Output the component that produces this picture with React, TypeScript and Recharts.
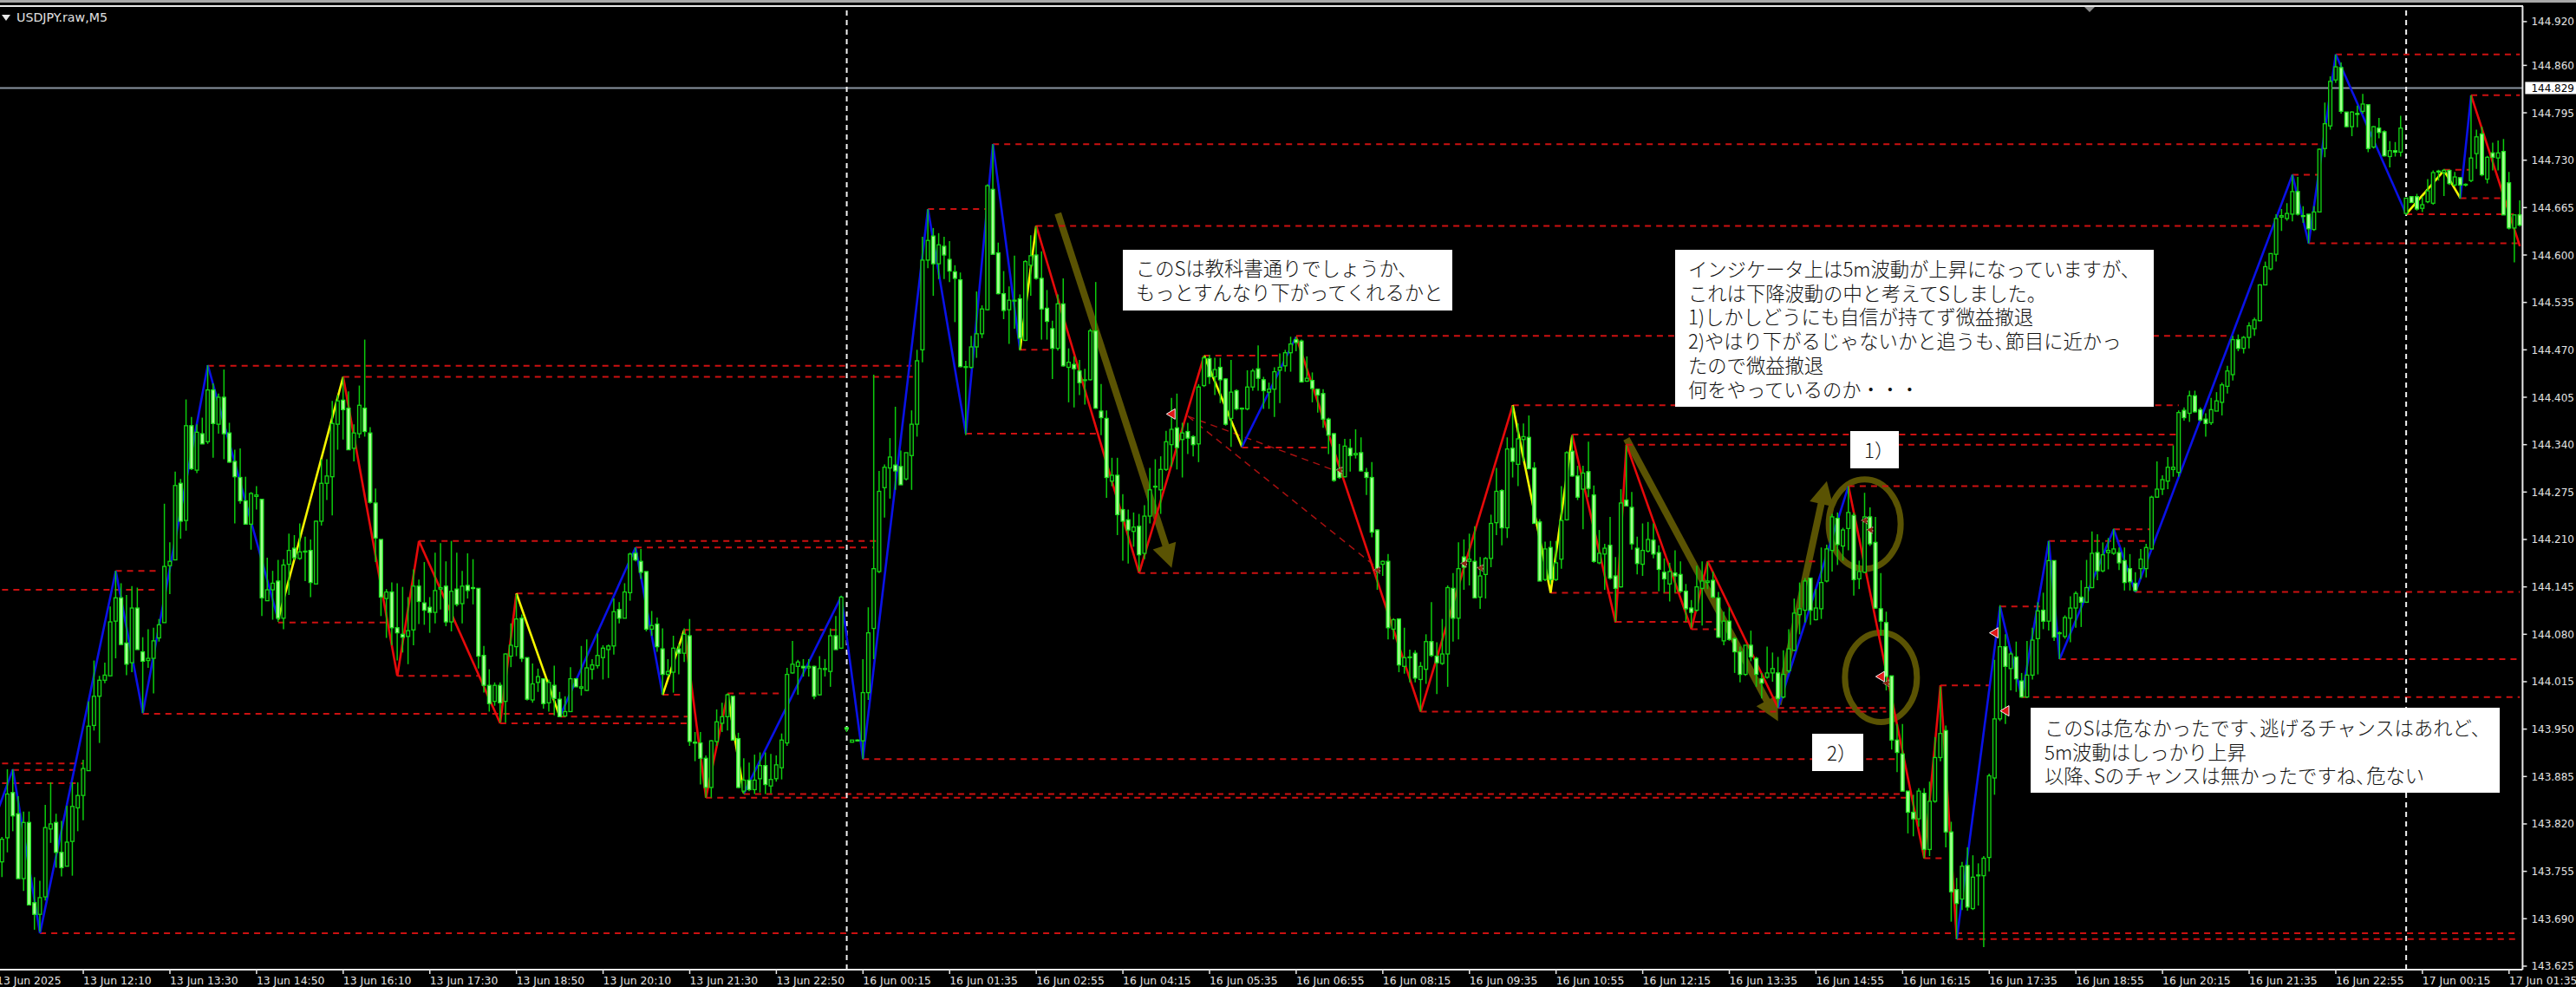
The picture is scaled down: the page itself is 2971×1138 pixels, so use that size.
import { Bar, ComposedChart, ReferenceDot, ReferenceLine, XAxis, YAxis } from "recharts";

// prices in thousandths of a yen, one entry per M5 bar
const opens = [
  143736,143768,143801,143863,143834,143745,143822,143712,143696,143720,143813,143822,143781,143762,143796,143842,143859,143893,143955,143995,
  144017,144023,144098,144130,144068,144041,144116,144056,144044,144047,144075,144096,144174,144182,144287,144236,144366,144305,144355,144344,
  144415,144368,144405,144356,144317,144295,144263,144231,144269,144265,144126,144141,144153,144102,144176,144198,144184,144193,144195,144149,
  144235,144287,144296,144368,144401,144390,144335,144355,144390,144356,144260,144210,144129,144138,144089,144080,144077,144086,144146,144123,
  144117,144110,144142,144146,144097,144142,144122,144147,144144,144143,144051,144010,143988,144010,143988,144050,144063,144102,144048,143990,
  144014,144019,143986,144010,143991,143968,143974,144019,144006,144003,144032,144037,144048,144059,144064,144114,144102,144137,144191,144180,
  144166,144087,144094,144060,144025,144028,144060,144054,144078,143932,143931,143910,143870,143933,143958,143967,143995,143937,143865,143880,
  143867,143882,143900,143872,143882,143897,143931,144027,144036,144036,144034,144036,143997,144032,144029,144078,144061,143952,143932,143935,
  143934,144000,144088,144166,144281,144308,144312,144310,144293,144325,144368,144470,144593,144626,144588,144612,144594,144577,144566,144446,
  144446,144474,144492,144525,144690,144603,144547,144525,144537,144540,144483,144586,144600,144568,144527,144499,144472,144533,144446,144450,
  144441,144428,144429,144496,144386,144376,144290,144298,144251,144237,144221,144228,144191,144242,144282,144278,144306,144340,144363,144347,
  144358,144351,144341,144421,144458,144433,144446,144430,144376,144414,144389,144389,144419,144444,144429,144412,144416,144442,144448,144466,
  144484,144482,144427,144428,144416,144410,144375,144355,144307,144296,144335,144326,144329,144302,144295,144223,144176,144180,144087,144101,
  144036,144048,144054,144018,144032,144070,144050,144040,144053,144143,144102,144186,144180,144180,144131,144162,144184,144233,144277,144226,
  144335,144313,144347,144350,144308,144234,144155,144199,144155,144183,144237,144331,144297,144279,144303,144271,144178,144190,144202,144160,
  144145,144264,144254,144198,144176,144194,144209,144192,144165,144149,144164,144162,144139,144116,144113,144143,144151,144154,144130,144071,
  144098,144074,144056,144025,144065,144047,144019,144021,144027,144027,143994,144030,144058,144107,144113,144157,144100,144115,144153,144195,
  144239,144201,144225,144243,144156,144165,144241,144206,144115,144096,144023,143935,143916,143865,143836,143827,143862,143785,143851,143911,
  143948,143809,143730,143717,143763,143704,143749,143749,143774,143883,143964,144063,144033,144049,144016,143994,144024,144074,144113,144098,
  144181,144081,144077,144102,144116,144131,144124,144144,144192,144167,144192,144191,144192,144181,144170,144150,144170,144170,144197,144268,
  144279,144290,144306,144302,144387,144383,144407,144388,144375,144370,144386,144398,144420,144436,144484,144472,144487,144499,144510,144559,
  144581,144601,144652,144650,144656,144687,144654,144656,144635,144659,144746,144777,144840,144857,144796,144776,144794,144797,144806,144748,
  144774,144769,144735,144743,144741,144657,144680,144680,144664,144673,144671,144715,144713,144716,144696,144706,144696,144702,144739,144766,
  144704,144740,144733,144742,144699,144637,144655,
];
const highs = [
  143784,143802,143895,143895,143858,143837,143837,143747,143742,143846,143877,143834,143824,143845,143877,143877,143908,143988,144044,144023,
  144041,144118,144167,144150,144134,144146,144144,144076,144087,144089,144101,144259,144206,144303,144293,144402,144378,144368,144377,144449,
  144424,144410,144443,144370,144333,144335,144296,144275,144283,144265,144185,144167,144182,144183,144218,144216,144232,144214,144210,144236,
  144320,144320,144400,144408,144433,144413,144368,144421,144484,144364,144280,144210,144142,144151,144150,144145,144131,144169,144155,144179,
  144131,144192,144205,144180,144208,144192,144167,144191,144183,144143,144064,144032,144014,144014,144054,144095,144135,144107,144048,144040,
  144033,144019,144018,144037,144001,143995,144035,144020,144064,144073,144046,144081,144065,144066,144129,144124,144150,144192,144199,144197,
  144166,144112,144103,144088,144046,144078,144067,144088,144101,143946,143946,143914,143935,143977,143986,143999,143995,143945,143910,143904,
  143915,143918,143918,143916,143914,143944,144034,144071,144045,144046,144046,144037,144050,144046,144088,144105,144133,143952,143935,143936,
  144046,144117,144436,144304,144313,144349,144392,144332,144329,144387,144470,144625,144663,144637,144630,144625,144619,144586,144576,144455,
  144489,144550,144531,144697,144752,144617,144578,144557,144599,144546,144593,144627,144639,144605,144552,144510,144546,144568,144472,144461,
  144456,144444,144499,144563,144423,144387,144322,144322,144272,144251,144247,144245,144257,144308,144320,144324,144359,144404,144410,144370,
  144370,144353,144423,144462,144463,144459,144459,144431,144456,144416,144391,144442,144444,144476,144433,144425,144446,144465,144470,144488,
  144488,144484,144461,144439,144417,144416,144377,144356,144341,144348,144348,144361,144350,144308,144316,144224,144181,144190,144102,144102,
  144089,144059,144058,144042,144080,144124,144069,144101,144147,144164,144206,144210,144218,144228,144186,144186,144244,144308,144279,144350,
  144393,144369,144369,144380,144316,144238,144207,144208,144208,144283,144331,144353,144311,144311,144344,144284,144223,144204,144241,144186,
  144279,144339,144275,144214,144232,144234,144232,144202,144184,144178,144195,144180,144149,144127,144174,144180,144179,144166,144138,144111,
  144117,144076,144063,144065,144085,144049,144027,144063,144055,144049,144058,144087,144129,144151,144157,144157,144142,144199,144203,144245,
  144247,144226,144283,144247,144181,144274,144254,144241,144164,144111,144023,143957,143957,143865,143860,143869,143869,143878,143939,144008,
  143955,143823,143746,143768,143788,143777,143766,143776,143889,144045,144120,144080,144056,144070,144027,144071,144089,144124,144137,144208,
  144181,144084,144106,144132,144139,144154,144182,144221,144217,144206,144212,144225,144199,144199,144190,144165,144197,144204,144270,144317,
  144298,144323,144339,144387,144391,144414,144414,144391,144383,144404,144412,144425,144448,144489,144491,144489,144508,144514,144560,144591,
  144602,144656,144663,144671,144710,144707,144667,144656,144667,144746,144809,144845,144875,144864,144796,144797,144805,144821,144806,144777,
  144788,144771,144756,144755,144791,144678,144681,144684,144680,144704,144716,144717,144718,144717,144714,144707,144698,144819,144772,144776,
  144736,144754,144757,144759,144714,144655,144675,
];
const lows = [
  143731,143747,143781,143810,143745,143728,143709,143675,143672,143715,143794,143760,143748,143762,143749,143810,143825,143893,143948,143931,
  144013,144023,144047,144065,144024,144028,144059,143972,144034,143999,144070,144096,144135,144182,144211,144222,144305,144301,144341,144341,
  144322,144355,144320,144315,144232,144259,144231,144196,144251,144105,144126,144100,144097,144087,144134,144182,144182,144153,144131,144149,
  144229,144264,144243,144333,144347,144333,144317,144349,144351,144259,144179,144105,144075,144065,144044,144055,144039,144065,144094,144093,
  144082,144095,144114,144091,144084,144118,144095,144129,144121,144033,144000,143974,143982,143959,143959,144035,144050,144042,143989,143986,
  144001,143978,143974,143969,143967,143967,143974,144008,143996,144002,144018,144033,144018,144020,144052,144095,144102,144126,144180,144156,
  144084,144078,144056,143997,144022,144000,144025,144042,143927,143906,143874,143856,143856,143927,143946,143948,143935,143869,143861,143865,
  143861,143863,143861,143862,143878,143881,143927,144026,143997,144022,144022,143991,143996,144022,144008,144059,144060,143946,143932,143934,
  143909,143990,144046,144164,144240,144266,144278,144285,144291,144278,144351,144453,144582,144544,144567,144567,144563,144508,144446,144353,
  144444,144459,144486,144524,144601,144546,144512,144478,144499,144469,144482,144544,144566,144484,144484,144430,144469,144447,144398,144391,
  144408,144395,144428,144389,144353,144267,144283,144216,144181,144177,144200,144166,144183,144232,144245,144245,144304,144310,144306,144295,
  144327,144324,144316,144419,144423,144408,144397,144366,144337,144387,144339,144387,144414,144414,144389,144389,144378,144397,144440,144440,
  144468,144425,144426,144398,144384,144363,144327,144289,144293,144295,144303,144321,144303,144271,144213,144141,144160,144073,144073,144028,
  144026,144014,144014,143974,144012,144049,143998,144038,144008,144070,144073,144141,144147,144129,144115,144129,144172,144216,144202,144212,
  144295,144283,144317,144306,144232,144153,144153,144149,144153,144170,144236,144296,144264,144224,144268,144178,144176,144141,144155,144097,
  144144,144256,144196,144162,144160,144192,144184,144139,144137,144125,144137,144137,144097,144089,144111,144092,144142,144129,144075,144065,
  144071,144027,144014,144023,144043,144008,143992,144019,144015,143979,143992,144027,144057,144080,144096,144093,144099,144101,144151,144166,
  144175,144181,144195,144133,144142,144164,144201,144115,144078,144003,143922,143891,143865,143807,143803,143816,143773,143776,143849,143906,
  143788,143686,143662,143702,143701,143702,143708,143651,143755,143860,143961,143957,144003,144001,143993,143993,144018,144025,144087,144085,
  144071,144046,144074,144069,144089,144090,144123,144143,144154,144165,144169,144189,144168,144140,144140,144138,144156,144158,144197,144267,
  144271,144279,144296,144296,144373,144371,144384,144372,144351,144367,144386,144380,144410,144428,144468,144465,144472,144489,144509,144559,
  144579,144591,144633,144647,144646,144654,144644,144616,144633,144659,144734,144772,144836,144794,144775,144763,144775,144794,144741,144746,
  144760,144735,144720,144735,144735,144655,144672,144661,144659,144671,144669,144702,144681,144696,144694,144677,144694,144700,144718,144708,
  144698,144716,144716,144655,144635,144590,144639,
];
const closes = [
  143768,143799,143861,143831,143745,143822,143709,143696,143719,143815,143820,143781,143760,143795,143844,143859,143896,143954,143995,144017,
  144024,144097,144130,144066,144039,144116,144059,144043,144047,144071,144093,144173,144180,144284,144235,144366,144307,144357,144341,144415,
  144369,144405,144355,144316,144296,144263,144231,144273,144271,144130,144141,144150,144102,144175,144195,144185,144193,144194,144151,144235,
  144287,144297,144369,144400,144388,144333,144356,144394,144358,144261,144212,144131,144138,144089,144082,144076,144085,144146,144125,144113,
  144110,144140,144144,144097,144139,144121,144146,144140,144143,144050,144010,143985,144010,143986,144053,144065,144101,144047,143991,144012,
  144022,143985,144014,143992,143967,143974,144019,144008,144008,144034,144038,144051,144061,144064,144111,144102,144138,144190,144182,144165,
  144087,144092,144063,144025,144029,144061,144054,144080,143933,143931,143910,143870,143934,143960,143967,143997,143935,143870,143880,143867,
  143880,143900,143874,143881,143901,143935,144025,144039,144042,144034,144036,143995,144033,144033,144078,144059,144131,143950,143935,143934,
  144000,144082,144170,144276,144309,144323,144304,144285,144329,144368,144455,144593,144620,144588,144614,144600,144578,144568,144447,144447,
  144474,144492,144526,144695,144601,144547,144524,144538,144538,144486,144591,144599,144568,144526,144509,144472,144533,144448,144453,144444,
  144425,144429,144496,144390,144377,144295,144298,144244,144235,144223,144227,144189,144242,144278,144283,144306,144344,144361,144336,144356,
  144349,144340,144419,144459,144433,144443,144429,144368,144412,144389,144390,144419,144441,144431,144414,144416,144440,144446,144466,144478,
  144480,144426,144431,144417,144408,144375,144353,144291,144295,144338,144325,144328,144304,144295,144220,144170,144180,144089,144100,144038,
  144048,144049,144020,144036,144070,144051,144041,144053,144144,144102,144170,144172,144183,144130,144160,144184,144232,144276,144226,144334,
  144317,144348,144351,144307,144232,144153,144197,144155,144178,144236,144329,144297,144268,144301,144280,144180,144191,144198,144157,144143,
  144260,144256,144204,144177,144195,144210,144190,144169,144156,144166,144160,144139,144115,144110,144145,144153,144153,144131,144076,144098,
  144073,144056,144025,144065,144049,144025,144013,144027,144033,143992,144025,144060,144109,144115,144153,144113,144116,144151,144197,144241,
  144203,144223,144247,144155,144166,144241,144204,144116,144098,144022,143935,143918,143865,143836,143827,143865,143785,143851,143911,143944,
  143809,143727,143711,143762,143706,143747,143750,143773,143886,143964,144063,144036,144053,144019,143994,144024,144072,144112,144098,144181,
  144076,144082,144103,144116,144136,144124,144144,144191,144167,144189,144195,144197,144178,144151,144152,144140,144183,144199,144268,144279,
  144292,144309,144309,144384,144377,144407,144385,144374,144369,144388,144400,144422,144441,144484,144472,144487,144503,144511,144559,144584,
  144602,144650,144654,144657,144687,144656,144653,144636,144659,144745,144780,144838,144858,144797,144776,144796,144793,144807,144746,144776,
  144768,144736,144743,144741,144774,144678,144672,144663,144669,144688,144713,144714,144716,144698,144707,144696,144697,144733,144762,144710,
  144734,144734,144740,144655,144637,144655,144641,
];

const tickLabels = [
  "13 Jun 2025", "13 Jun 12:10", "13 Jun 13:30", "13 Jun 14:50", "13 Jun 16:10", "13 Jun 17:30", "13 Jun 18:50", "13 Jun 20:10",
  "13 Jun 21:30", "13 Jun 22:50", "16 Jun 00:15", "16 Jun 01:35", "16 Jun 02:55", "16 Jun 04:15", "16 Jun 05:35", "16 Jun 06:55",
  "16 Jun 08:15", "16 Jun 09:35", "16 Jun 10:55", "16 Jun 12:15", "16 Jun 13:35", "16 Jun 14:55", "16 Jun 16:15", "16 Jun 17:35",
  "16 Jun 18:55", "16 Jun 20:15", "16 Jun 21:35", "16 Jun 22:55", "17 Jun 00:15", "17 Jun 01:35",
];
const priceTicks = [
  144.92, 144.86, 144.829, 144.795, 144.73, 144.665, 144.6, 144.535, 144.47, 144.405, 144.34, 144.275, 144.21,
  144.145, 144.08, 144.015, 143.95, 143.885, 143.82, 143.755, 143.69, 143.625,
];
const lastPrice = 144.829;
const sessionBreaks = [157, 445];

// zigzag pivots, segment i runs from pivot i to pivot i + 1
const pivotBars = [0,3,8,22,27,39,52,64,74,78,93,96,104,118,123,127,131,135,138,156,160,172,179,184,189,192,211,223,230,240,263,280,287,291,299,301,313,316,329,342,356,359,362,370,374,379,381,391,395,424,427,432,445,452,455,457,466];
const pivotPrices = [143834,143895,143670,144167,143972,144449,144100,144433,144023,144208,143958,144136,143967,144199,143997,144086,143856,143998,143862,144132,143909,144663,144355,144752,144470,144640,144164,144462,144337,144488,143974,144394,144137,144353,144096,144340,144087,144180,143979,144283,143773,144010,143662,144118,143994,144208,144046,144224,144138,144710,144616,144875,144656,144716,144678,144819,144612];
const segmentKinds = ["blue","blue","blue","blue","blue","blue","yellow","red","red","red","red","yellow","blue","blue","yellow","red","red","yellow","blue","blue","blue","blue","blue","blue","yellow","red","red","yellow","blue","red","red","yellow","yellow","red","red","red","red","red","blue","red","red","red","blue","blue","blue","blue","blue","blue","blue","blue","blue","blue","yellow","yellow","blue","red"];

// horizontal levels left by the pivots
const levelStarts = [1,3,1,8,362,1,22,27,39,64,52,74,78,118,96,127,135,123,104,93,160,138,131,184,172,192,189,179,211,223,240,230,280,291,301,287,299,313,263,329,316,342,359,356,370,379,391,395,381,374,424,427,432,445,452,455,457];
const levelEnds = [16,16,15,466,466,30,30,104,169,170,72,89,163,162,114,156,145,127,128,128,351,352,353,429,183,421,195,203,255,237,412,246,403,403,402,311,317,318,349,349,336,398,368,360,378,397,398,466,466,466,429,466,466,466,457,463,466];
const levelPrices = [143903,143894,143876,143670,143662,144141,144167,143971,144448,144433,144096,144023,144208,144199,144136,144086,143999,143997,143967,143958,143909,143861,143856,144752,144663,144640,144470,144355,144164,144462,144489,144336,144394,144354,144340,144137,144097,144087,143974,143979,144180,144283,144010,143773,144118,144208,144224,144138,144046,143994,144710,144616,144875,144656,144717,144678,144819];

// thin diagonal trend lines
const trendFrom = [[220, 144379], [220, 144379]];
const trendTo = [[247, 144305], [255, 144171]];

// hand drawn annotations: shaft start, shaft end, tip, head angle in degrees
const arrowFrom = [[196, 144657], [301, 144348], [329, 143984]];
const arrowTo = [[216, 144200], [327, 143988], [337, 144260]];
const arrowTip = [[217, 144171], [329, 143961], [338, 144290]];
const arrowAngle = [72, 62, -77];
const ringCenters = [[345, 144231], [348, 144021]];
const tradeMarks = [[217, 144382], [348, 144022], [369, 144082], [371, 143975]];
const faintMarks = [[248, 144305], [255, 144168], [271, 144177], [274, 144171], [345, 144236], [346, 144223], [349, 144013]];

const noteA = ["このSは教科書通りでしょうか、", "もっとすんなり下がってくれるかと"];
const noteB = [
  "インジケータ上は5m波動が上昇になっていますが、",
  "これは下降波動の中と考えてSしました。",
  "1)しかしどうにも自信が持てず微益撤退",
  "2)やはり下がるじゃないかと追うも、節目に近かっ",
  "たので微益撤退",
  "何をやっているのか・・・",
];
const noteC = [
  "このSは危なかったです、逃げるチャンスはあれど、",
  "5m波動はしっかり上昇",
  "以降、Sのチャンスは無かったですね、危ない",
];

const px = (v: number) => v / 1000;

const bars = opens.map((open, i) => ({
  bar: i,
  range: [px(lows[i]), px(highs[i])],
  open: px(open),
  close: px(closes[i]),
  high: px(highs[i]),
  low: px(lows[i]),
}));

const zigzagColors: Record<string, string> = { blue: "#0a12e6", red: "#e60a0a", yellow: "#f5f500" };
const olive = "#5a5303";

const Candle = (props: any) => {
  const { x, y, width, height, payload } = props;
  const { open, close, high, low } = payload;
  const span = high - low || 1;
  const toY = (v: number) => y + ((high - v) / span) * height;
  const cx = x + width / 2;
  const top = toY(Math.max(open, close));
  const bottom = toY(Math.min(open, close));
  const up = close >= open;
  return (
    <g>
      <line x1={cx} x2={cx} y1={y} y2={y + height} stroke="#0ccc0c" strokeWidth={1.5} />
      <rect
        x={cx - 1.9} y={top} width={3.8} height={Math.max(bottom - top, 1)}
        fill={up ? "#021202" : "#a8ff94"} stroke={up ? "#14d414" : "#22e622"} strokeWidth={1.3}
      />
    </g>
  );
};

const XTick = (props: any) => {
  const { x, y, payload } = props;
  return (
    <g>
      <line x1={x} x2={x} y1={y - 8} y2={y - 3} stroke="#e8e8e8" strokeWidth={1.5} />
      <text x={x} y={y + 9.5} fill="#e4e4e4" fontSize={12.4} fontFamily="DejaVu Sans">
        {tickLabels[payload.value / 16]}
      </text>
    </g>
  );
};

const YTick = (props: any) => {
  const { x, y, payload } = props;
  const isLast = payload.value === lastPrice;
  return (
    <g>
      {!isLast && <line x1={x - 8} x2={x - 3} y1={y} y2={y} stroke="#e8e8e8" strokeWidth={1.5} />}
      {isLast && <rect x={x - 5} y={y - 7} width={62} height={14} fill="#ffffff" />}
      <text x={x + 2} y={y + 4.5} fill={isLast ? "#000000" : "#e4e4e4"} fontSize={12} fontFamily="DejaVu Sans">
        {payload.value.toFixed(3)}
      </text>
    </g>
  );
};

const ArrowHead = (props: any) => (
  <polygon
    points="0,0 -27,-14 -27,14"
    fill={olive}
    transform={`translate(${props.cx},${props.cy}) rotate(${props.angle})`}
  />
);

const Ring = (props: any) => (
  <ellipse cx={props.cx} cy={props.cy} rx={41.5} ry={51.5} fill="none" stroke={olive} strokeWidth={7} />
);

const TradeMark = (props: any) => (
  <polygon
    points={`${props.cx - 6},${props.cy} ${props.cx + 4},${props.cy - 6} ${props.cx + 4},${props.cy + 6}`}
    fill="#e01818" stroke="#f4f4f4" strokeWidth={1}
  />
);

const FaintMark = (props: any) => (
  <polygon
    points={`${props.cx - 4},${props.cy} ${props.cx + 3},${props.cy - 4} ${props.cx + 3},${props.cy + 4}`}
    fill="#8a2a10" stroke="#d8d8d8" strokeWidth={0.7} strokeDasharray="2 2"
  />
);

// the mid-line commas are narrow in the original text
const NoteLine = ({ text }: { text: string }) => {
  const parts = text.split("、");
  return (
    <div>
      {parts.map((part, i) => (
        <span key={i}>
          {part}
          {i < parts.length - 1 && <span style={{ letterSpacing: i < parts.length - 2 || parts[i + 1] ? "-0.45em" : 0 }}>、</span>}
        </span>
      ))}
    </div>
  );
};

const Note = ({ lines, left, top, width, height, textLeft, textTop }: any) => (
  <div style={{ position: "absolute", left, top, width, height, background: "#fff" }}>
    <div
      style={{
        position: "absolute", left: textLeft, top: textTop, color: "#111", whiteSpace: "pre",
        fontFamily: "'Noto Sans CJK JP'", fontSize: 22.3, lineHeight: "27.7px", fontWeight: 300,
      }}
    >
      {lines.map((line: string, i: number) => <NoteLine key={i} text={line} />)}
    </div>
  </div>
);

export default function App() {
  return (
    <div style={{ position: "fixed", left: 0, top: 0, width: 2971, height: 1138, overflow: "hidden", background: "#000" }}>
      <div style={{ position: "absolute", left: -7.3, top: 0 }}>
        <ComposedChart
          width={2978.4} height={1138} data={bars} barCategoryGap={0}
          margin={{ top: 7, right: 0, bottom: 0, left: 0 }}
        >
          <XAxis
            dataKey="bar" type="category" height={20} interval={0}
            ticks={tickLabels.map((_, i) => i * 16)} tick={<XTick />} tickLine={false}
            axisLine={{ stroke: "#e8e8e8", strokeWidth: 2 }}
          />
          <YAxis
            orientation="right" width={62} domain={[143.6202, 144.9413]} allowDataOverflow
            ticks={priceTicks} interval={0} tick={<YTick />} tickLine={false}
            axisLine={{ stroke: "#e8e8e8", strokeWidth: 2 }}
          />
          {arrowFrom.map((from, i) => (
            <ReferenceLine
              key={`arrow-${i}`} stroke={olive} strokeWidth={8} zIndex={100}
              segment={[{ x: from[0], y: px(from[1]) }, { x: arrowTo[i][0], y: px(arrowTo[i][1]) }]}
            />
          ))}
          {arrowTip.map((tip, i) => (
            <ReferenceDot
              key={`head-${i}`} x={tip[0]} y={px(tip[1])} zIndex={100}
              shape={(p: any) => <ArrowHead {...p} angle={arrowAngle[i]} />}
            />
          ))}
          {ringCenters.map((c, i) => (
            <ReferenceDot key={`ring-${i}`} x={c[0]} y={px(c[1])} zIndex={100} shape={(p: any) => <Ring {...p} />} />
          ))}
          <ReferenceLine y={lastPrice} stroke="#8a94a0" strokeWidth={2} zIndex={100} />
          {levelStarts.map((start, i) => (
            <ReferenceLine
              key={`level-${i}`} stroke="#cc1010" strokeWidth={2} strokeDasharray="7 6" zIndex={100}
              segment={[{ x: start, y: px(levelPrices[i]) }, { x: levelEnds[i], y: px(levelPrices[i]) }]}
            />
          ))}
          {trendFrom.map((from, i) => (
            <ReferenceLine
              key={`trend-${i}`} stroke="#a81010" strokeWidth={1.4} strokeDasharray="8 6" zIndex={100}
              segment={[{ x: from[0], y: px(from[1]) }, { x: trendTo[i][0], y: px(trendTo[i][1]) }]}
            />
          ))}
          {sessionBreaks.map((b) => (
            <ReferenceLine key={`break-${b}`} x={b} stroke="#f0f0f0" strokeWidth={2} strokeDasharray="6 5" zIndex={100} />
          ))}
          {segmentKinds.map((kind, i) => (
            <ReferenceLine
              key={`zigzag-${i}`} stroke={zigzagColors[kind]} strokeWidth={2.6} zIndex={100}
              segment={[{ x: pivotBars[i], y: px(pivotPrices[i]) }, { x: pivotBars[i + 1], y: px(pivotPrices[i + 1]) }]}
            />
          ))}
          <Bar dataKey="range" isAnimationActive={false} shape={<Candle />} />
          {tradeMarks.map((m, i) => (
            <ReferenceDot key={`mark-${i}`} x={m[0]} y={px(m[1])} shape={(p: any) => <TradeMark {...p} />} />
          ))}
          {faintMarks.map((m, i) => (
            <ReferenceDot key={`faint-${i}`} x={m[0]} y={px(m[1])} shape={(p: any) => <FaintMark {...p} />} />
          ))}
        </ComposedChart>
      </div>

      <div style={{ position: "absolute", left: 0, top: 0, width: 2971, height: 3, background: "#a8a8a8" }} />
      <div style={{ position: "absolute", left: 0, top: 6, width: 2910, height: 2, background: "#e8e8e8" }} />
      <div style={{ position: "absolute", left: 2404, top: 8, width: 0, height: 0, borderLeft: "6px solid transparent", borderRight: "6px solid transparent", borderTop: "6px solid #888" }} />
      <div style={{ position: "absolute", left: 2, top: 17, width: 0, height: 0, borderLeft: "5px solid transparent", borderRight: "5px solid transparent", borderTop: "7px solid #e8e8e8" }} />
      <div style={{ position: "absolute", left: 19, top: 12, color: "#e0e0e0", fontFamily: "'DejaVu Sans'", fontSize: 14.2, lineHeight: "16px", whiteSpace: "pre" }}>USDJPY.raw,M5</div>

      <Note lines={noteA} left={1295} top={288} width={380} height={70} textLeft={15} textTop={7} />
      <Note lines={noteB} left={1932} top={288} width={552} height={181} textLeft={15} textTop={8} />
      <Note lines={["1）"]} left={2134} top={497} width={56} height={43} textLeft={16} textTop={8} />
      <Note lines={["2）"]} left={2090} top={846} width={59} height={43} textLeft={17} textTop={8} />
      <Note lines={noteC} left={2342} top={816} width={541} height={98} textLeft={16} textTop={9} />
    </div>
  );
}
